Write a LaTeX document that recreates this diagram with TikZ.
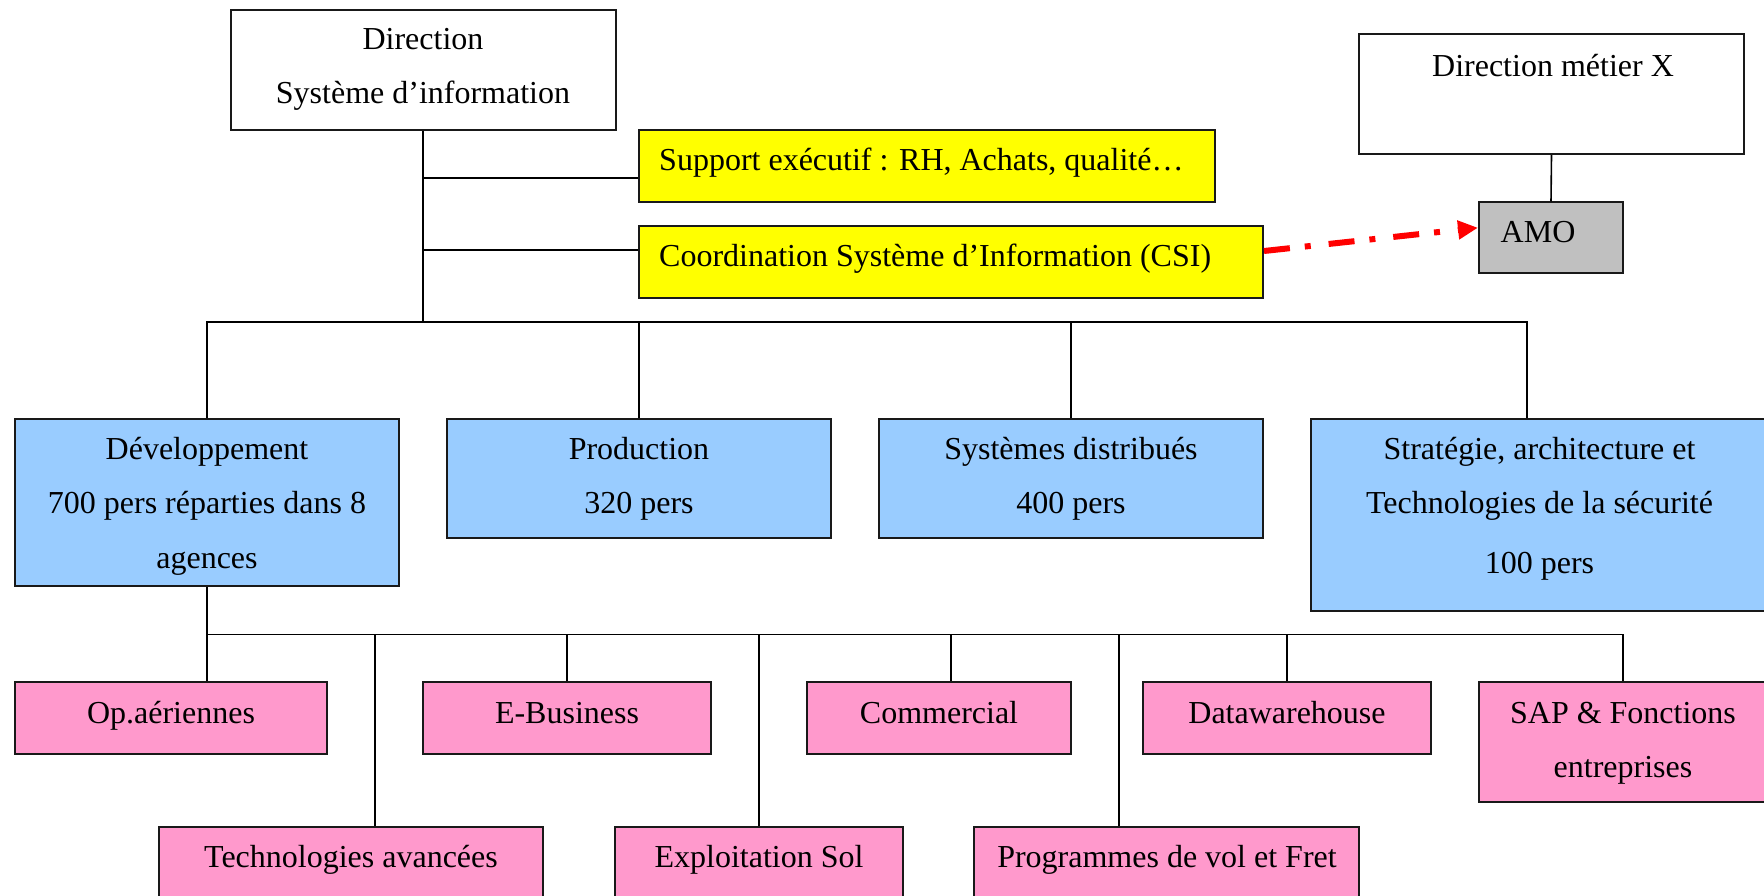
\documentclass[tikz,border=0pt]{standalone}
\usepackage{fontspec}
\setmainfont{Liberation Serif}
\usetikzlibrary{arrows.meta,calc}
\definecolor{yel}{RGB}{255,255,0}
\definecolor{blu}{RGB}{153,204,255}
\definecolor{pnk}{RGB}{255,153,204}
\definecolor{gry}{RGB}{192,192,192}
\definecolor{edgec}{RGB}{25,25,25}
\begin{document}
\begin{tikzpicture}[x=1pt,y=-1pt,
  box/.style={draw=edgec, line width=2pt, inner sep=0pt},
  wbox/.style={box, fill=white},
  ybox/.style={box, fill=yel},
  bbox/.style={box, fill=blu},
  pbox/.style={box, fill=pnk},
  gbox/.style={box, fill=gry},
  txt/.style={font=\fontsize{32}{38}\selectfont, inner sep=0pt, anchor=base},
  txtl/.style={txt, anchor=base west},
  conn/.style={line width=1.6pt, draw=black},
  redarrow/.style={draw=red, line width=6pt, dash pattern=on 26pt off 15pt on 6pt off 18pt,
    -{Triangle[length=20pt,width=18pt]}}]
\useasboundingbox (0,0) rectangle (1764,896);

% top level
\node[wbox, minimum width=385pt, minimum height=120.5pt] (dsi) at (423,70.25) {};
\node[txt] (dsiT1) at (423,50) {Direction};
\node[txt] (dsiT2) at (423,104) {Système d’information};

\node[ybox, minimum width=576pt, minimum height=72pt] (sup) at (927,166.5) {};
\node[txtl] (supT) at (659,171) {Support exécutif : RH, Achats, qualité…};

\node[ybox, minimum width=624pt, minimum height=72pt] (csi) at (951,262) {};
\node[txtl] (csiT) at (659,266) {Coordination Système d’Information (CSI)};

\node[wbox, minimum width=385pt, minimum height=120pt] (dmx) at (1551.5,94) {};
\node[txt] (dmxT) at (1553,77) {Direction métier X};

\node[gbox, minimum width=144pt, minimum height=70.5pt] (amo) at (1551,237.75) {};
\node[txtl] (amoT) at (1500.5,243) {AMO};

% second level
\node[bbox, minimum width=384.5pt, minimum height=167.5pt] (dev) at (207,502.25) {};
\node[txt] (devT1) at (207,459) {Développement};
\node[txt] (devT2) at (207,513) {700 pers réparties dans 8};
\node[txt] (devT3) at (207,568) {agences};

\node[bbox, minimum width=384pt, minimum height=119.5pt] (prod) at (639,478.25) {};
\node[txt] (prodT1) at (639,459) {Production};
\node[txt] (prodT2) at (639,513) {320 pers};

\node[bbox, minimum width=384pt, minimum height=119.5pt] (sysd) at (1071,478.25) {};
\node[txt] (sysdT1) at (1071,459) {Systèmes distribués};
\node[txt] (sysdT2) at (1071,513) {400 pers};

\node[bbox, minimum width=458pt, minimum height=192pt] (strat) at (1540,514.5) {};
\node[txt] (stratT1) at (1539.5,459) {Stratégie, architecture et};
\node[txt] (stratT2) at (1539.5,513) {Technologies de la sécurité};
\node[txt] (stratT3) at (1539.5,573) {100 pers};

% third level
\node[pbox, minimum width=312pt, minimum height=72pt] (opa) at (171,718) {};
\node[txt] (opaT) at (171,723) {Op.aériennes};
\node[pbox, minimum width=288pt, minimum height=72pt] (ebiz) at (567,718) {};
\node[txt] (ebizT) at (567,723) {E-Business};
\node[pbox, minimum width=264pt, minimum height=72pt] (comm) at (939,718) {};
\node[txt] (commT) at (939,723) {Commercial};
\node[pbox, minimum width=288pt, minimum height=72pt] (dw) at (1287,718) {};
\node[txt] (dwT) at (1287,723) {Datawarehouse};
\node[pbox, minimum width=288pt, minimum height=120pt] (sap) at (1623,742) {};
\node[txt] (sapT1) at (1623,723) {SAP \& Fonctions};
\node[txt] (sapT2) at (1623,777) {entreprises};

\node[pbox, minimum width=384pt, minimum height=72pt] (tech) at (351,863) {};
\node[txt] (techT) at (351,867) {Technologies avancées};
\node[pbox, minimum width=288pt, minimum height=72pt] (expl) at (759,863) {};
\node[txt] (explT) at (759,867) {Exploitation Sol};
\node[pbox, minimum width=385pt, minimum height=72pt] (prog) at (1166.5,863) {};
\node[txt] (progT) at (1167,867) {Programmes de vol et Fret};

% connectors top
\coordinate (busL) at (207,322);
\coordinate (busR) at (1527,322);
\coordinate (br1) at (423,178);
\coordinate (br2) at (423,250);
\draw[conn] (dsi.south) -- (dsi.south |- busL);
\draw[conn] (br1) -- (sup.west |- br1);
\draw[conn] (br2) -- (csi.west |- br2);
\draw[conn] (dev.north) -- (busL) -- (busR) -- (busR |- strat.north);
\draw[conn] (prod.north) -- (prod.north |- busL);
\draw[conn] (sysd.north) -- (sysd.north |- busL);
\draw[conn] (dmx.south) -- (amo.north);

% connectors bottom
\coordinate (b2L) at (207,634.5);
\coordinate (b2R) at (1623,634.5);
\draw[conn] (dev.south) -- (dev.south |- opa.north);
\draw[conn] (b2L) -- (b2R) -- (sap.north);
\draw[conn] (375,634.5) coordinate (d1) -- (d1 |- tech.north);
\draw[conn] (ebiz.north) -- (ebiz.north |- b2L);
\draw[conn] (expl.north) -- (expl.north |- b2L);
\draw[conn] (951,634.5) coordinate (d2) -- (d2 |- comm.north);
\draw[conn] (1119,634.5) coordinate (d3) -- (d3 |- prog.north);
\draw[conn] (dw.north) -- (dw.north |- b2L);

% red arrow
\draw[redarrow] ($(csi.east)+(0,-11)$) -- ($(amo.west)+(0,-10)$);
\end{tikzpicture}
\end{document}
